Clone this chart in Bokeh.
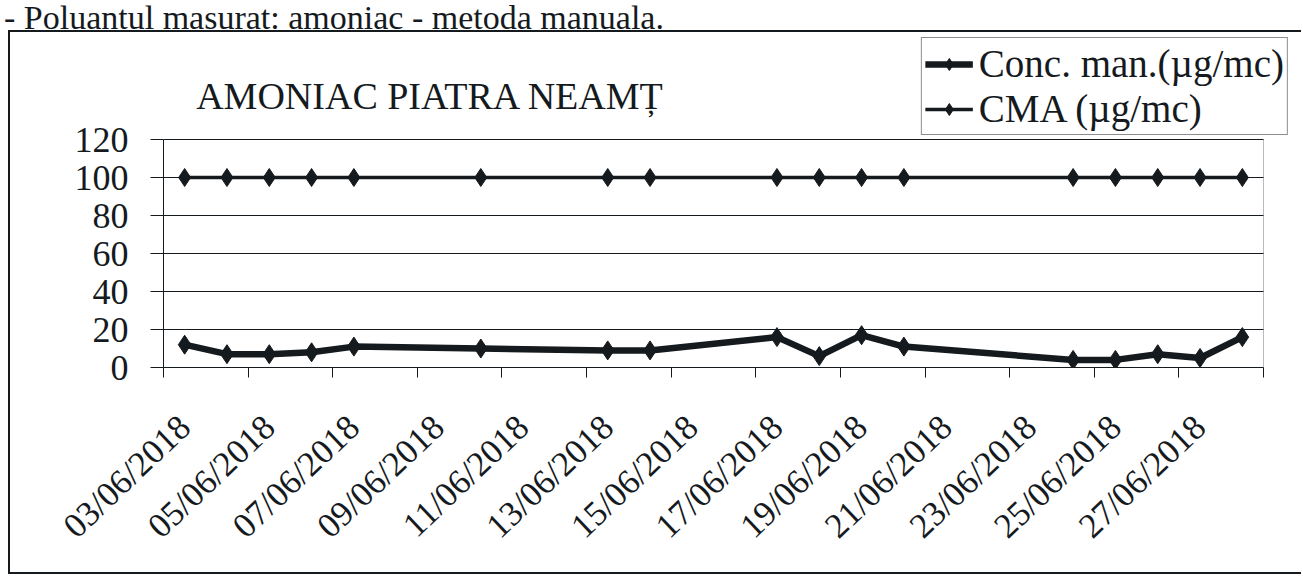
import pandas as pd
from bokeh.plotting import figure
from bokeh.layouts import column
from bokeh.core.properties import value
from bokeh.models import (FixedTicker, Range1d, Legend, LegendItem,
                          BoxAnnotation, ColumnDataSource, Div,
                          CustomJSTickFormatter)
from bokeh.embed import file_html
from bokeh.resources import INLINE

# ---------------- data ----------------
dates = ["03/06/2018", "04/06/2018", "05/06/2018", "06/06/2018", "07/06/2018",
         "10/06/2018", "13/06/2018", "14/06/2018", "17/06/2018", "18/06/2018",
         "19/06/2018", "20/06/2018", "24/06/2018", "25/06/2018", "26/06/2018",
         "27/06/2018", "28/06/2018"]
conc = [12, 7, 7, 8, 11, 10, 9, 9, 16, 6, 17, 11, 4, 4, 7, 5, 16]
cma = [100, 100, 100, 100, 100, 100, 100, 100, 100, 100, 100, 100, 100, 100,
       100, 100, 100]
tick_labels = ["03/06/2018", "05/06/2018", "07/06/2018", "09/06/2018",
               "11/06/2018", "13/06/2018", "15/06/2018", "17/06/2018",
               "19/06/2018", "21/06/2018", "23/06/2018", "25/06/2018",
               "27/06/2018"]
axis_first_day = "03/06/2018"
axis_last_day = "28/06/2018"
y_ticks = [0, 20, 40, 60, 80, 100, 120]
y_max = 120
series_names = ["Conc. man.(\u00b5g/mc)", "CMA (\u00b5g/mc)"]
chart_title = "AMONIAC PIATRA NEAM\u021a"
header_text = "- Poluantul masurat: amoniac - metoda manuala."

# ---------------- derived positions ----------------
t0 = pd.to_datetime(axis_first_day, dayfirst=True)
t1 = pd.to_datetime(axis_last_day, dayfirst=True)
x = [int((pd.to_datetime(d, dayfirst=True) - t0).days) for d in dates]
lab_x = [int((pd.to_datetime(d, dayfirst=True) - t0).days) for d in tick_labels]
n_days = int((t1 - t0).days) + 1
minor = [v - 0.5 for v in lab_x] + [n_days - 0.5]

src = ColumnDataSource(dict(x=x, conc=conc, cma=cma))

INK = "#151a1e"
FONT = "Times New Roman"

# ---------------- layout (pixels) ----------------
CW, CH = 1293, 544          # canvas
ML, MR, MB = 153, 10, 209   # borders around the frame
PLOT_W = 1100               # width of the plot area (x axis extent)
FRAME_W = CW - ML - MR
FRAME_H = CH - MB
PLOT_H = 228                # height of the 0..120 plot area
px_day = PLOT_W / n_days
px_unit = PLOT_H / y_max

p = figure(width=CW, height=CH, output_backend="svg", toolbar_location=None,
           x_range=Range1d(-0.5, -0.5 + FRAME_W / px_day),
           y_range=Range1d(0, FRAME_H / px_unit),
           min_border_left=ML, min_border_right=MR, min_border_top=0,
           min_border_bottom=MB, background_fill_color="white",
           border_fill_color="white")
p.outline_line_color = None
p.styles = {"margin-left": "8px", "margin-top": "0px",
            "border-left": "2px solid " + INK,
            "border-top": "2px solid " + INK,
            "border-bottom": "2px solid " + INK}

# axes
p.xaxis.ticker = FixedTicker(ticks=lab_x, minor_ticks=minor)
p.xaxis.bounds = (-0.5, n_days - 0.5)
p.xaxis.formatter = CustomJSTickFormatter(
    args=dict(pos=lab_x, labels=tick_labels),
    code="const i = pos.indexOf(Math.round(tick)); return i >= 0 ? labels[i] : '';")
p.xaxis.major_tick_line_color = None
p.xaxis.minor_tick_line_color = INK
p.xaxis.minor_tick_in = 0
p.xaxis.minor_tick_out = 10
p.xaxis.major_tick_out = 10
p.xaxis.axis_line_color = INK
p.xaxis.major_label_orientation = 0.76
p.xaxis.major_label_text_font = FONT
p.xaxis.major_label_text_font_size = "35px"
p.xaxis.major_label_text_color = INK
p.xaxis.major_label_standoff = 44

p.yaxis.ticker = FixedTicker(ticks=y_ticks)
p.yaxis.bounds = (0, y_max)
p.yaxis.major_tick_in = 0
p.yaxis.major_tick_out = 13
p.yaxis.minor_tick_line_color = None
p.yaxis.major_tick_line_color = INK
p.yaxis.axis_line_color = INK
p.yaxis.major_label_text_font = FONT
p.yaxis.major_label_text_font_size = "36px"
p.yaxis.major_label_text_color = INK
p.yaxis.major_label_standoff = 22

p.xgrid.grid_line_color = None
p.ygrid.grid_line_color = INK
p.ygrid.grid_line_width = 1
if "cross_bounds" in p.ygrid[0].properties():
    p.ygrid[0].cross_bounds = (-0.5, n_days - 0.5)

# plot-area border
p.add_layout(BoxAnnotation(left=-0.5, right=n_days - 0.5, bottom=0, top=y_max,
                           fill_alpha=0, line_color=INK, line_width=1))

# series
l1 = p.line("x", "conc", source=src, line_color=INK, line_width=6.5)
m1 = p.scatter("x", "conc", source=src, marker="diamond", size=19,
               fill_color=INK, line_color=INK)
l2 = p.line("x", "cma", source=src, line_color=INK, line_width=3.5)
m2 = p.scatter("x", "cma", source=src, marker="diamond", size=18,
               fill_color=INK, line_color=INK)

legend = Legend(items=[LegendItem(label=series_names[0], renderers=[l1, m1]),
                       LegendItem(label=series_names[1], renderers=[l2, m2])],
                location="top_right", orientation="vertical",
                label_text_font=FONT, label_text_font_size="39px",
                label_text_color=INK, glyph_width=48, glyph_height=30,
                label_height=30, label_standoff=6, padding=3, spacing=0,
                margin=5, border_line_color=INK, border_line_width=1,
                background_fill_color="white", background_fill_alpha=1)
p.add_layout(legend, "center")

# chart title (inside the chart area, above the plot area)
p.text(x=[-0.5 + 267 / px_day], y=[y_max + 44 / px_unit], text=[chart_title],
       text_font=value(FONT), text_font_size="38px", text_color=INK,
       text_align="center", text_baseline="middle")

header = Div(text=('<span style="font-family:\'Liberation Serif\',serif;'
                   'font-size:34px;color:%s;white-space:nowrap;'
                   'position:relative;top:-6px;left:4px">%s</span>'
                   % (INK, header_text)),
             width=1290, height=30, margin=(0, 0, 0, 0))

page = column(header, p, spacing=0)
open("out.html", "w").write(file_html(page, INLINE))
